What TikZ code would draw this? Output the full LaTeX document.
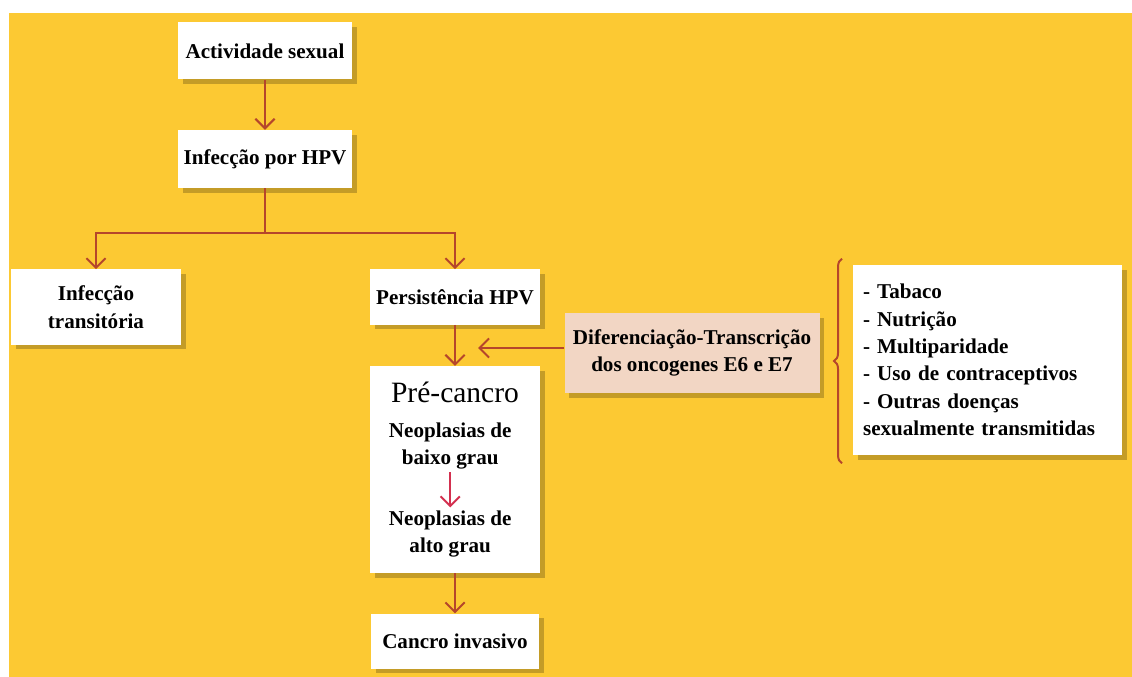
\documentclass[tikz,border=0pt]{standalone}
\usepackage{fontspec}
\setmainfont{Liberation Serif}
\usetikzlibrary{arrows.meta, positioning, shadows, decorations.pathreplacing}
\definecolor{bgyellow}{HTML}{FCC933}
\definecolor{linkbrown}{HTML}{B5462B}
\definecolor{innerred}{HTML}{D3304F}
\definecolor{peach}{HTML}{F2D6C4}
\tikzset{
    box/.style={rectangle, fill=white, align=center, inner sep=2pt, font=\bfseries\fontsize{15}{19.5}\selectfont,
        drop shadow={shadow xshift=0.12cm, shadow yshift=-0.12cm, fill=black, opacity=0.22}},
    peachbox/.style={box, fill=peach},
    intext/.style={align=center, inner sep=2pt, font=\bfseries\fontsize{15}{19.5}\selectfont},
    arrow/.style={-{Straight Barb[length=2.4mm, width=4.8mm]}, line width=1.4pt, draw=linkbrown},
    redarrow/.style={arrow, draw=innerred},
    bracket/.style={decorate, decoration={brace, amplitude=0.2cm}, line width=1.4pt, draw=linkbrown}
}

\begin{document}
\begin{tikzpicture}
    % background and page margins
    \fill[white] (0,0) rectangle (28.3,-16.925);
    \useasboundingbox (0,0) rectangle (28.3,-16.925);
    \fill[bgyellow] (0.225,-0.325) rectangle (28.3,-16.925);

    \node[box, minimum width=4.35cm, minimum height=1.425cm] (act) at (6.625,-1.275) {Actividade sexual};
    \node[box, below=1.25cm of act, minimum width=4.35cm, minimum height=1.45cm] (inf) {Infecção por HPV};
    \node[box, minimum width=4.25cm, minimum height=1.875cm] (trans) at (2.4,-7.675) {Infecção\\transitória};
    \node[box, minimum width=4.25cm, minimum height=1.375cm] (pers) at (11.375,-7.425) {Persistência HPV};
    \node[box, below=1.025cm of pers, minimum width=4.25cm, minimum height=5.175cm] (pre) {};
    \node[box, below=1.0cm of pre, minimum width=4.2cm, minimum height=1.375cm] (canc) {Cancro invasivo};
    \node[peachbox, minimum width=6.375cm, minimum height=2.0cm] (dif) at (17.3,-8.825) {Diferenciação-Transcrição\\dos oncogenes E6 e E7};
    \node[box, align=left, text width=6.225cm, inner sep=0.25cm, minimum height=4.75cm] (risk) at (24.69,-9.0) {
        - Tabaco\\
        - Nutrição\\
        - Multiparidade\\
        - Uso de contraceptivos\\
        - Outras doenças\\
        sexualmente transmitidas
    };

    % inside the pre-cancer box
    \node[intext, font=\fontsize{21}{25}\selectfont] (pretitle) at ([yshift=-0.66cm]pre.north) {Pré-cancro};
    \node[intext] (low) at ([xshift=-0.12cm, yshift=-2.0cm]pre.north) {Neoplasias de\\baixo grau};
    \node[intext] (high) at ([xshift=-0.12cm, yshift=-4.2cm]pre.north) {Neoplasias de\\alto grau};

    \draw[arrow] (act) -- (inf);
    \draw[arrow] (inf.south) -- ++(0,-1.125) -| (trans.north);
    \draw[arrow] (inf.south) -- ++(0,-1.125) -| (pers.north);
    \draw[arrow] (pers) -- (pre);
    \draw[arrow] (pre) -- (canc);
    \draw[redarrow] (low) -- (high);

    \coordinate (tip) at (11.95,-8.7);
    \draw[arrow] (dif.west |- tip) -- (tip);

    \coordinate (bracebot) at ([xshift=-0.27cm, yshift=-0.2cm]risk.south west);
    \coordinate (bracetop) at ([xshift=-0.27cm, yshift=0.15cm]risk.north west);
    \draw[bracket] (bracebot) -- (bracetop);
\end{tikzpicture}
\end{document}
